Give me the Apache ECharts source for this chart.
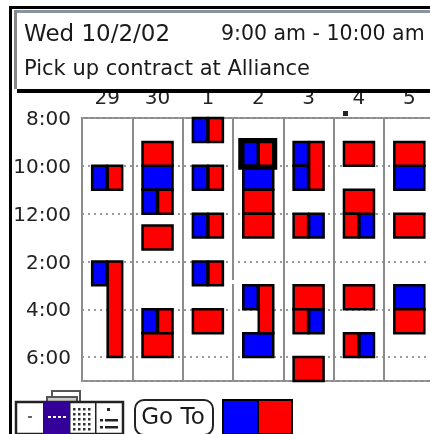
<!DOCTYPE html>
<html><head><meta charset="utf-8">
<style>html,body{margin:0;padding:0;background:#fff}#c{width:430px;height:434px;filter:blur(0.7px)}</style>
<script src="https://cdn.jsdelivr.net/npm/echarts@6/dist/echarts.min.js"></script>
</head><body><div id="c"></div>
<script>
const days = ['29','30','1','2','3','4','5'];
const hourLabels = {8:'8:00',10:'10:00',12:'12:00',14:'2:00',16:'4:00',18:'6:00'};
const headerDate = 'Wed 10/2/02';
const headerTime = '9:00 am - 10:00 am';
const headerTitle = 'Pick up contract at Alliance';
// [day index, start hour, end hour, slot] slot: 0 full width, 1 left half, 2 right half
const blueEvents = [
  [0,10,11,1],[0,14,15,1],
  [1,10,11,0],[1,11,12,1],[1,16,17,1],
  [2,8,9,1],[2,10,11,1],[2,12,13,1],[2,14,15,1],
  [3,9,10,1],[3,10,11,0],[3,15,16,1],[3,17,18,0],
  [4,9,10,1],[4,10,11,1],[4,12,13,2],[4,16,17,2],
  [5,12,13,2],[5,17,18,2],
  [6,10,11,0],[6,15,16,0]
];
const redEvents = [
  [0,10,11,2],[0,14,18,2],
  [1,9,10,0],[1,11,12,2],[1,12.5,13.5,0],[1,16,17,2],[1,17,18,0],
  [2,8,9,2],[2,10,11,2],[2,12,13,2],[2,14,15,2],[2,16,17,0],
  [3,9,10,2],[3,11,12,0],[3,12,13,0],[3,15,17,2],
  [4,9,11,2],[4,12,13,1],[4,15,16,0],[4,16,17,1],[4,18,19,0],
  [5,9,10,0],[5,11,12,0],[5,12,13,1],[5,15,16,0],[5,17,18,1],
  [6,9,10,0],[6,12,13,0],[6,16,17,0]
];
const selectedEvent = [[3,9,10]];
const textFont = '"DejaVu Sans"';

function blockShape(api){
  const c0 = api.coord([api.value(0), api.value(1)]);
  const c1 = api.coord([api.value(0), api.value(2)]);
  const half = 15, gap = 0.5, slot = api.value(3);
  const x0 = slot === 2 ? c0[0]+gap : c0[0]-half;
  const x1 = slot === 1 ? c0[0]-gap : c0[0]+half;
  return {x:x0, y:c0[1], width:x1-x0, height:c1[1]-c0[1]};
}
function eventSeries(data,color){
  return {type:'custom',data,clip:false,z:3,silent:true,
    renderItem:(p,api)=>({type:'rect',shape:blockShape(api),style:{fill:color,stroke:'#000',lineWidth:2.5}})};
}
const chrome = [];
const rect=(x,y,w,h,fill,extra)=>chrome.push(Object.assign({type:'rect',shape:{x,y,width:w,height:h},style:{fill},z:50},extra||{}));
const txt=(x,y,text,size,extra)=>chrome.push({type:'text',x,y,z:52,style:Object.assign({text,fill:'#1a1a1a',font:size+'px '+textFont,textVerticalAlign:'middle'},extra||{})});
// outer frame
rect(9,6,421,3,'#000'); rect(9,6,3,428,'#000');
// header box
rect(15,10,415,80,'#fff');
rect(15,10,415,3,'#8a94a0'); rect(14,10,3,79,'#888');
rect(17,89,413,4,'#000');
txt(24,35,headerDate,23); txt(221,35,headerTime,20.5); txt(24,70,headerTitle,21);
// current-day dot, vertical line gap
rect(343,111,5,5,'#222'); rect(232,280,5,4,'#fff');
// toolbar
rect(52,391,28,11,'#fff',{style:{fill:'#fff',stroke:'#555',lineWidth:2}});
rect(47,397,30,5,'#ccc',{style:{fill:'#ccc',stroke:'#555',lineWidth:2}});
rect(16,402,107,32,'#fff',{style:{fill:'#fff',stroke:'#222',lineWidth:2.5}});
rect(43,402,26,32,'#330099');
[69,95].forEach(x=>rect(x,402,1.5,32,'#222'));
rect(28,416,4,2,'#666');
[48,53,58,63].forEach(x=>rect(x,416,3,2,'#fff'));
[73,78,83,88].forEach(x=>[408,413,418,423,428].forEach(y=>rect(x,y,2.5,2.5,'#333')));
rect(107,408,3,3,'#222'); rect(100,419,3,2.5,'#222'); rect(105,419,13,2.5,'#222'); rect(100,426,3,2.5,'#222'); rect(105,426,13,2.5,'#222');
// Go To
chrome.push({type:'rect',z:50,shape:{x:135,y:400,width:78,height:35,r:9},style:{fill:'#fff',stroke:'#222',lineWidth:2}});
txt(173,418,'Go To',23,{textAlign:'center'});
// legend swatch
rect(223,400,35,34,'#00f',{style:{fill:'#00f',stroke:'#000',lineWidth:2}});
rect(258,400,34,34,'#f00',{style:{fill:'#f00',stroke:'#000',lineWidth:2}});

const chart = echarts.init(document.getElementById('c'),null,{renderer:'canvas'});
chart.setOption({
  animation:false,backgroundColor:'#fff',
  grid:{left:82,width:352.5,top:118,height:263,show:true,borderColor:'#8c8c8c',borderWidth:2,containLabel:false,outerBoundsMode:'none'},
  xAxis:{type:'category',position:'top',data:days,boundaryGap:true,
    axisLine:{show:false},axisTick:{show:false},
    axisLabel:{color:'#222',fontFamily:'DejaVu Sans',fontSize:20,margin:9,interval:0},
    splitLine:{show:true,interval:0,lineStyle:{color:'#8c8c8c',width:2}}},
  yAxis:{type:'value',inverse:true,min:8,max:19,interval:2,
    axisLine:{show:false},axisTick:{show:false},
    axisLabel:{color:'#222',fontFamily:'DejaVu Sans',fontSize:20,margin:11,verticalAlign:'top',lineHeight:20,padding:[-8,0,0,0],showMaxLabel:false,formatter:v=>hourLabels[v]||''},
    splitLine:{show:true,lineStyle:{color:'#9a9a9a',type:[2,4],width:2}}},
  series:[eventSeries(blueEvents,'#0000ff'),eventSeries(redEvents,'#ff0000'),
    {type:'custom',data:selectedEvent,clip:false,z:4,silent:true,
     renderItem:(p,api)=>{
       const c0=api.coord([api.value(0),api.value(1)]),c1=api.coord([api.value(0),api.value(2)]);
       return {type:'rect',shape:{x:c0[0]-18,y:c0[1]-2,width:35,height:c1[1]-c0[1]+4},style:{fill:'none',stroke:'#000',lineWidth:4}};
     }}],
  graphic:{elements:chrome}
});
</script></body></html>
